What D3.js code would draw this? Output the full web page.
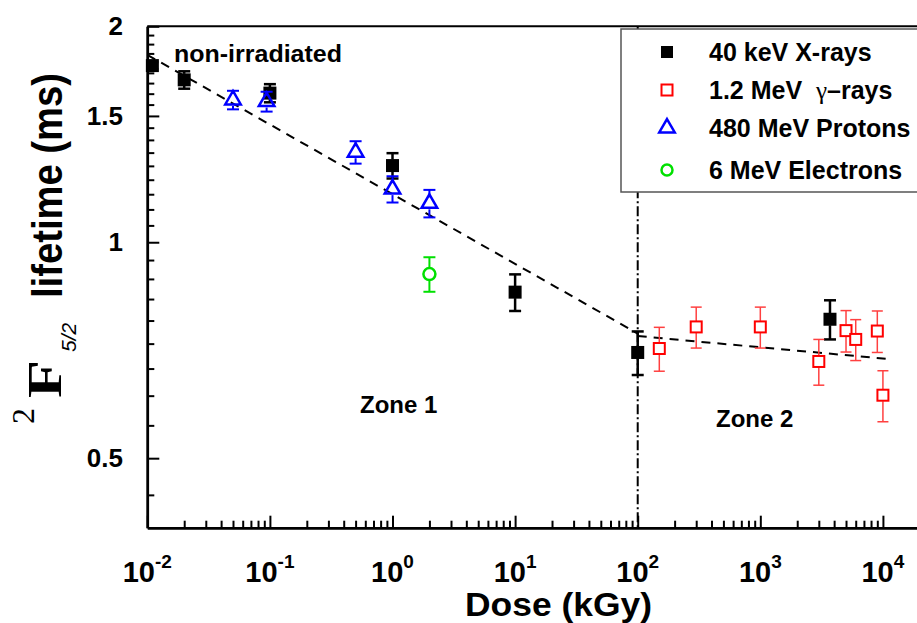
<!DOCTYPE html>
<html><head><meta charset="utf-8">
<script src="https://cdn.jsdelivr.net/npm/d3@7/dist/d3.min.js"></script>
<style>
html,body{margin:0;padding:0;background:#fff;}
svg{display:block;font-family:"Liberation Sans",Arial,sans-serif;}
</style></head>
<body><svg id="c" width="917" height="623"></svg>
<script>
// ---- data ----
const xrayDose = [0.011, 0.02, 0.1, 1, 10, 100, 3700];
const xrayLife = [1.763, 1.684, 1.614, 1.279, 0.852, 0.702, 0.781];
const xrayErr  = [0.02, 0.047, 0.047, 0.052, 0.05, 0.049, 0.049];

const gammaDose = [150, 300, 1000, 3000, 5000, 6000, 9000, 10000];
const gammaLife = [0.711, 0.762, 0.762, 0.682, 0.753, 0.732, 0.752, 0.612];
const gammaErr  = [0.05, 0.05, 0.05, 0.05, 0.05, 0.048, 0.05, 0.05];

const protonDose = [0.05, 0.094, 0.5, 1, 2];
const protonLife = [1.579, 1.571, 1.335, 1.186, 1.133];
const protonErr  = [0.047, 0.05, 0.048, 0.05, 0.05];

const electronDose = [2];
const electronLife = [0.903];
const electronErr  = [0.05];

const fit1Dose = [0.01, 100];
const fit1Life = [1.825, 0.746];
const fit2Dose = [100, 11500];
const fit2Life = [0.740, 0.687];

const zoneBoundary = 100;

const xMajor = [0.01, 0.1, 1, 10, 100, 1000, 10000];
const xTickExp = ["-2", "-1", "0", "1", "2", "3", "4"];
const yMajor = [0.5, 1, 1.5, 2];
const yTickLabels = ["0.5", "1", "1.5", "2"];

const legendLabels = ["40 keV X-rays", "1.2 MeV\u00a0\u00a0γ–rays", "480 MeV Protons", "6 MeV Electrons"];

// ---- layout ----
const svg = d3.select("#c");
const L = 147.3, R = 919.7, T = 26.3, B = 527.7;
const x = d3.scaleLog().domain([0.01, Math.pow(10, 4.3)]).range([L, R]);
const y = d3.scaleLog().domain([0.4, 2]).range([B, T]);

// minor ticks
const xMinor = x.ticks().filter(v => !xMajor.some(m => Math.abs(m - v) / m < 1e-6));
const yMinor = [];
const yBounds = [0.5, 1, 1.5, 2];
for (let i = 0; i < yBounds.length - 1; i++) {
  const a = yBounds[i], b = yBounds[i + 1], st = (b - a) / 9;
  for (let k = 1; k <= 8; k++) yMinor.push(a + k * st);
}
yMinor.push(0.5 - 0.5 / 9);

// zone boundary (dash-dot) behind legend
svg.append("line")
  .attr("x1", x(zoneBoundary)).attr("x2", x(zoneBoundary))
  .attr("y1", T).attr("y2", B)
  .attr("stroke", "#000").attr("stroke-width", 2)
  .attr("stroke-dasharray", "10,3,2,3");

// fits
const lineGen = d3.line().x(d => x(d[0])).y(d => y(d[1]));
svg.append("path").attr("d", lineGen(fit1Dose.map((d, i) => [d, fit1Life[i]])))
  .attr("fill", "none").attr("stroke", "#000").attr("stroke-width", 2).attr("stroke-dasharray", "9,7");
svg.append("path").attr("d", lineGen(fit2Dose.map((d, i) => [d, fit2Life[i]])))
  .attr("fill", "none").attr("stroke", "#000").attr("stroke-width", 2).attr("stroke-dasharray", "9,7");

// axes
function styleAxis(g, w) {
  g.select(".domain").attr("stroke", "#000").attr("stroke-width", w);
  g.selectAll(".tick line").attr("stroke", "#000").attr("stroke-width", 2);
  g.selectAll(".tick text").remove();
}
svg.append("g").attr("transform", `translate(0,${B})`)
  .call(d3.axisBottom(x).tickValues(xMajor).tickSize(-12).tickSizeOuter(0).tickFormat(""))
  .call(g => styleAxis(g, 2.5));
svg.append("g").attr("transform", `translate(0,${B})`)
  .call(d3.axisBottom(x).tickValues(xMinor).tickSize(-7).tickSizeOuter(0).tickFormat(""))
  .call(g => styleAxis(g, 2.5));
svg.append("g").attr("transform", `translate(${L},0)`)
  .call(d3.axisLeft(y).tickValues(yMajor).tickSize(-12).tickSizeOuter(0).tickFormat(""))
  .call(g => styleAxis(g, 2.5));
svg.append("g").attr("transform", `translate(${L},0)`)
  .call(d3.axisLeft(y).tickValues(yMinor).tickSize(-7).tickSizeOuter(0).tickFormat(""))
  .call(g => styleAxis(g, 2.5));
// top frame line
svg.append("line").attr("x1", L).attr("x2", R).attr("y1", T).attr("y2", T)
  .attr("stroke", "#000").attr("stroke-width", 2);

// x tick labels
xMajor.forEach((v, i) => {
  const t = svg.append("text").attr("x", x(v)).attr("y", 582)
    .attr("text-anchor", "middle").attr("font-weight", "bold").attr("font-size", 29);
  t.append("tspan").text("10");
  t.append("tspan").attr("dy", -14).attr("font-size", 19).text(xTickExp[i]);
});
// y tick labels
yMajor.forEach((v, i) => {
  svg.append("text").attr("x", 123).attr("y", y(v) + 9)
    .attr("text-anchor", "end").attr("font-weight", "bold").attr("font-size", 26)
    .text(yTickLabels[i]);
});

// axis titles
svg.append("text").attr("x", 465).attr("y", 616)
  .attr("font-weight", "bold").attr("font-size", 33)
  .attr("textLength", 187).attr("lengthAdjust", "spacingAndGlyphs")
  .text("Dose (kGy)");
svg.append("text").attr("transform", "translate(62,298) rotate(-90)")
  .attr("font-weight", "bold").attr("font-size", 42)
  .attr("textLength", 225).attr("lengthAdjust", "spacingAndGlyphs")
  .text("lifetime (ms)");
svg.append("text").attr("transform", "translate(61,398) rotate(-90)")
  .attr("font-family", "'Liberation Serif','Times New Roman',serif")
  .attr("font-weight", "bold").attr("font-size", 48)
  .attr("textLength", 38).attr("lengthAdjust", "spacingAndGlyphs").text("F");
svg.append("text").attr("transform", "translate(34,424) rotate(-90)")
  .attr("font-family", "'Liberation Serif','Times New Roman',serif")
  .attr("font-size", 32).text("2");
svg.append("text").attr("transform", "translate(76,352) rotate(-90)")
  .attr("font-style", "italic").attr("font-size", 21).text("5/2");

// annotations
svg.append("text").attr("x", 174).attr("y", 62).attr("font-weight", "bold").attr("font-size", 24)
  .attr("textLength", 168).attr("lengthAdjust", "spacingAndGlyphs").text("non-irradiated");
svg.append("text").attr("x", 360).attr("y", 413).attr("font-weight", "bold").attr("font-size", 24).text("Zone 1");
svg.append("text").attr("x", 716).attr("y", 427).attr("font-weight", "bold").attr("font-size", 24).text("Zone 2");

// series drawing helpers
function errorBars(dose, life, err, color, width, half, cap) {
  const g = svg.append("g").attr("stroke", color).attr("stroke-width", width);
  dose.forEach((d, i) => {
    const cx = x(d), yt = y(life[i] + err[i]), yb = y(life[i] - err[i]), yc = y(life[i]);
    if (yc - half > yt) g.append("line").attr("x1", cx).attr("x2", cx).attr("y1", yt).attr("y2", yc - half);
    if (yc + half < yb) g.append("line").attr("x1", cx).attr("x2", cx).attr("y1", yc + half).attr("y2", yb);
    g.append("line").attr("x1", cx - cap).attr("x2", cx + cap).attr("y1", yt).attr("y2", yt);
    g.append("line").attr("x1", cx - cap).attr("x2", cx + cap).attr("y1", yb).attr("y2", yb);
  });
}

// X-rays (black filled squares)
errorBars(xrayDose, xrayLife, xrayErr, "#000", 2.5, 6, 6);
svg.append("g").selectAll("rect").data(xrayDose).join("rect")
  .attr("x", d => x(d) - 6.5).attr("y", (d, i) => y(xrayLife[i]) - 6.5)
  .attr("width", 13).attr("height", 13).attr("fill", "#000");

// gamma rays (red open squares)
errorBars(gammaDose, gammaLife, gammaErr, "#ff4040", 1.5, 6, 5.5);
svg.append("g").selectAll("rect").data(gammaDose).join("rect")
  .attr("x", d => x(d) - 5.5).attr("y", (d, i) => y(gammaLife[i]) - 5.5)
  .attr("width", 11).attr("height", 11).attr("fill", "#fff")
  .attr("stroke", "#ff0000").attr("stroke-width", 2);

// protons (blue open triangles)
errorBars(protonDose, protonLife, protonErr, "#0000ff", 2, 6, 6);
const tri = d3.symbol().type(d3.symbolTriangle).size(105);
svg.append("g").selectAll("path").data(protonDose).join("path")
  .attr("transform", (d, i) => `translate(${x(d)},${y(protonLife[i])})`)
  .attr("d", tri).attr("fill", "none").attr("stroke", "#0000ff").attr("stroke-width", 2.5);

// electrons (green open circles)
errorBars(electronDose, electronLife, electronErr, "#00e000", 2, 6, 6);
svg.append("g").selectAll("circle").data(electronDose).join("circle")
  .attr("cx", d => x(d)).attr("cy", (d, i) => y(electronLife[i])).attr("r", 6)
  .attr("fill", "#fff").attr("stroke", "#00e000").attr("stroke-width", 2.5);

// legend
const lg = svg.append("g");
lg.append("rect").attr("x", 621).attr("y", 29).attr("width", 310).attr("height", 163)
  .attr("fill", "#fff").attr("stroke", "#555").attr("stroke-width", 1.5);
const rowY = [52, 90, 128, 170];
const sx = 667;
lg.append("rect").attr("x", sx - 6).attr("y", rowY[0] - 6).attr("width", 12).attr("height", 12).attr("fill", "#000");
lg.append("rect").attr("x", sx - 5.5).attr("y", rowY[1] - 5.5).attr("width", 11).attr("height", 11)
  .attr("fill", "#fff").attr("stroke", "#ff0000").attr("stroke-width", 2);
lg.append("path").attr("transform", `translate(${sx},${rowY[2]})`).attr("d", tri)
  .attr("fill", "none").attr("stroke", "#0000ff").attr("stroke-width", 2.5);
lg.append("circle").attr("cx", sx).attr("cy", rowY[3]).attr("r", 5.5)
  .attr("fill", "#fff").attr("stroke", "#00e000").attr("stroke-width", 2.5);
legendLabels.forEach((s, i) => {
  const t = lg.append("text").attr("x", 709).attr("y", rowY[i] + 9)
    .attr("font-weight", "bold").attr("font-size", 25);
  if (s.includes("γ")) {
    const parts = s.split("γ");
    t.append("tspan").text(parts[0]);
    t.append("tspan").attr("font-family", "'Liberation Serif',serif").attr("font-weight", "normal").text("γ");
    t.append("tspan").text(parts[1]);
  } else t.text(s);
});
</script></body></html>
